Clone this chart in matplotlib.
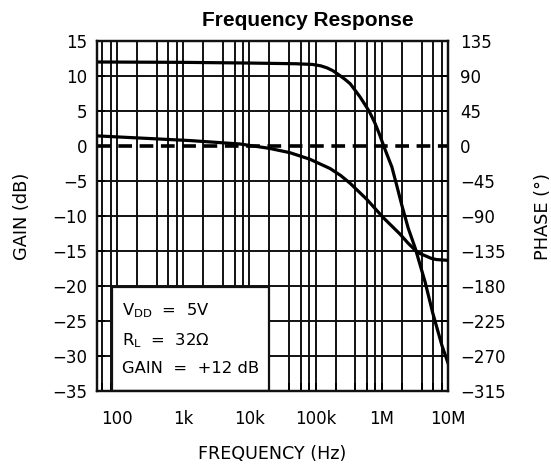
import matplotlib
matplotlib.use("Agg")
import matplotlib.pyplot as plt
from matplotlib.patches import Rectangle
from matplotlib.ticker import FixedLocator, FixedFormatter, NullFormatter

# Closed-loop gain of the amplifier (dB) vs frequency (Hz)
gain_freq = [50, 1e3, 1e4, 50e3, 90e3, 120e3, 150e3, 183e3, 230e3, 280e3,
             333e3, 400e3, 470e3, 550e3, 650e3, 790e3, 920e3, 1.07e6, 1.22e6,
             1.42e6, 1.7e6, 2.0e6, 2.5e6, 3.2e6, 4.5e6, 5.9e6, 8.1e6, 1e7]
gain_db = [12.0, 11.95, 11.85, 11.75, 11.65, 11.45, 11.15, 10.75, 10.1, 9.5,
           8.9, 7.9, 7.0, 6.0, 4.9, 3.25, 1.7, 0.0, -1.4,
           -3.0, -5.8, -8.4, -11.7, -14.6, -19.4, -23.9, -28.5, -31.0]

# Phase of the output (degrees) vs frequency (Hz)
phase_freq = [50, 1.26e3, 7.2e3, 20e3, 41e3, 82e3, 166e3, 240e3, 333e3, 600e3,
              1.05e6, 1.87e6, 2.5e6, 3.2e6, 3.7e6, 4.8e6, 5.6e6, 6.7e6, 1e7]
phase_deg = [13, 7, 2.6, -3, -8.6, -17, -29, -38, -48, -69,
             -92, -113, -125, -134, -138, -142, -144.5, -146, -147]

# 0 dB reference line
ref_freq = [50, 1e7]
ref_db = [0, 0]

# Axis ticks and labels
x_major = [1e2, 1e3, 1e4, 1e5, 1e6, 1e7]
x_labels = ["100", "1k", "10k", "100k", "1M", "10M"]
x_minor_mult = [2, 4, 6, 8]
gain_ticks = [15, 10, 5, 0, -5, -10, -15, -20, -25, -30, -35]
phase_ticks = [135, 90, 45, 0, -45, -90, -135, -180, -225, -270, -315]

conditions = ["V$_{\\mathrm{DD}}$  =  5V", "R$_{\\mathrm{L}}$  =  32\u03a9",
              "GAIN  =  +12 dB"]

plt.rcParams["font.family"] = ["DejaVu Sans"]
plt.rcParams["mathtext.fontset"] = "dejavusans"

W, H = 551, 465
fig = plt.figure(figsize=(W / 100, H / 100), dpi=100)
ax = fig.add_axes([97 / W, 74 / H, 351 / W, 350 / H])
ax.set_xscale("log")
ax.set_xlim(50, 1e7)
ax.set_ylim(-35, 15)

# Grid: horizontal every 5 dB (0 dB carries the dashed line), vertical at
# 2, 4, 6, 8, 10 per decade
grid_kw = dict(color="#111111", lw=1.4, zorder=1)
for g in gain_ticks:
    if g != 0:
        ax.axhline(g, **grid_kw)
decades = [10, 100, 1e3, 1e4, 1e5, 1e6]
x_grid = [d * m for d in decades for m in [2, 4, 6, 8, 10] if 50 < d * m < 1e7]
for v in x_grid:
    ax.axvline(v, **grid_kw)

minor = [d * m for d in decades for m in x_minor_mult if 50 < d * m < 1e7]

ax.xaxis.set_major_locator(FixedLocator(x_major))
ax.xaxis.set_major_formatter(FixedFormatter(x_labels))
ax.xaxis.set_minor_locator(FixedLocator(minor))
ax.xaxis.set_minor_formatter(NullFormatter())
ax.set_yticks(gain_ticks)
ax.set_yticklabels([f"{t}".replace("-", "\u2212") for t in gain_ticks])
ax.tick_params(axis="x", which="both", direction="in", length=6, width=1.4,
               pad=13.5, labelsize=12, top=False)
ax.tick_params(axis="y", which="both", direction="in", length=6, width=1.4,
               pad=7, labelsize=12)

# Conditions box
box = Rectangle((15 / 351, 0), 157 / 351, 104 / 350, transform=ax.transAxes,
                facecolor="white", edgecolor="#111111", lw=1.6, zorder=2)
ax.add_patch(box)
for txt, yb in zip(conditions, [0.217, 0.131, 0.051]):
    ax.text(25 / 351, yb, txt, transform=ax.transAxes, fontsize=11.8,
            va="baseline", ha="left", zorder=4)

ax.plot(ref_freq, ref_db, color="black", lw=2.6, dashes=(3.8, 2.1),
        solid_capstyle="butt", dash_capstyle="butt", zorder=3)
ax.plot(gain_freq, gain_db, color="black", lw=2.3, zorder=3,
        solid_joinstyle="round")

ax2 = ax.twinx()
ax2.set_ylim(-315, 135)
ax2.set_yticks(phase_ticks)
ax2.set_yticklabels([f"{t}".replace("-", "\u2212") for t in phase_ticks])
ax2.tick_params(axis="y", direction="in", length=6, width=1.4, pad=8.5,
                labelsize=12)
ax2.plot(phase_freq, phase_deg, color="black", lw=2.3, zorder=3,
         solid_joinstyle="round")

for a in (ax, ax2):
    for s in a.spines.values():
        s.set_linewidth(1.6)
        s.set_color("#111111")

fig.text(308 / W, 1 - 21 / H, "Frequency Response", ha="center", va="center",
         fontsize=15, fontweight="bold", family=["Liberation Sans", "DejaVu Sans"])
fig.text(22 / W, 1 - 216 / H, "GAIN (dB)", rotation=90, ha="center",
         va="center", fontsize=12.8)
fig.text(543 / W, 1 - 216 / H, "PHASE (\u00b0)", rotation=90, ha="center",
         va="center", fontsize=12.8)
fig.text(272 / W, 2 / H, "FREQUENCY (Hz)", ha="center", va="bottom",
         fontsize=12.6)

fig.savefig("out.png", dpi=100)
